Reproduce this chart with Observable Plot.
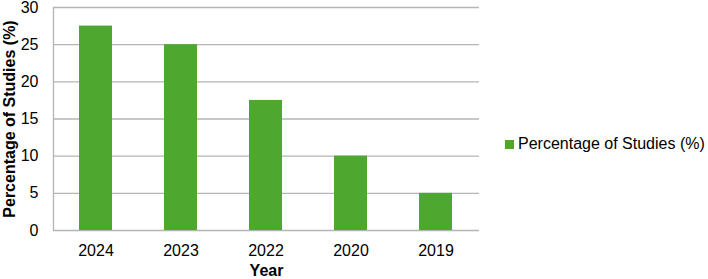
<!DOCTYPE html>
<html>
<head>
<meta charset="utf-8">
<script src="https://cdn.jsdelivr.net/npm/d3@7"></script>
<script src="https://cdn.jsdelivr.net/npm/@observablehq/plot@0.6"></script>
<style>
  html, body { margin: 0; padding: 0; background: #fff; }
  #wrap { position: relative; width: 708px; height: 279px; font-family: "Liberation Sans", Arial, sans-serif; }
  #wrap svg { display: block; }
  g[aria-label="y-axis label"] text, g[aria-label="x-axis label"] text { font-weight: bold; }
  #legend { position: absolute; left: 505px; top: 135px; display: flex; align-items: center; font-size: 16px; color: #000; white-space: nowrap; }
  #legend .sw { width: 9px; height: 9px; background: #4ea72e; margin-right: 4px; }
</style>
</head>
<body>
<div id="wrap"></div>
<script>
const years = ["2024", "2023", "2022", "2020", "2019"];
const percentages = [27.5, 25, 17.5, 10, 5];
const yTicks = [0, 5, 10, 15, 20, 25, 30];
const seriesName = "Percentage of Studies (%)";

const data = years.map((y, i) => ({year: y, value: percentages[i]}));

const chart = Plot.plot({
  width: 708,
  height: 279,
  marginLeft: 53,
  marginRight: 229,
  marginTop: 7,
  marginBottom: 49,
  style: {fontFamily: "Liberation Sans, Arial, sans-serif", fontSize: "16px", color: "#000", background: "#fff"},
  x: {domain: years, paddingInner: 0.61, paddingOuter: 0.305, label: null},
  y: {domain: [0, 30], label: null},
  marks: [
    Plot.ruleY(yTicks, {stroke: "#b5b5b5", strokeWidth: 1.3}),
    Plot.frame({anchor: "left", stroke: "#b5b5b5", strokeWidth: 1.3}),
    Plot.barY(data, {x: "year", y: "value", fill: "#4ea72e"}),
    Plot.axisY({ticks: yTicks, tickSize: 0, tickPadding: 15, label: seriesName, labelAnchor: "center", labelArrow: "none", labelOffset: 50, fill: "#000"}),
    Plot.axisX({tickSize: 0, tickPadding: 14, label: "Year", labelAnchor: "center", labelArrow: "none", labelOffset: 45, fill: "#000"})
  ]
});
document.getElementById("wrap").appendChild(chart);
const leg = document.createElement("div");
leg.id = "legend";
leg.innerHTML = '<div class="sw"></div><span></span>';
leg.querySelector("span").textContent = seriesName;
document.getElementById("wrap").appendChild(leg);
</script>
</body>
</html>
